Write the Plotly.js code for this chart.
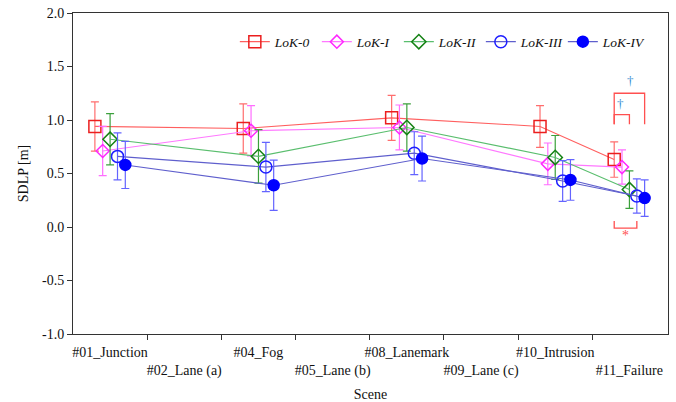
<!DOCTYPE html>
<html>
<head>
<meta charset="utf-8">
<script src="https://cdn.plot.ly/plotly-3.0.1.min.js"></script>
<style>html,body{margin:0;padding:0;background:#fff;}#chart{width:676px;height:402px;}</style>
</head>
<body>
<div id="chart"></div>
<script>
// Category slots on the x axis (labels staggered in two rows)
const scenes = ['#01_Junction', '#02_Lane (a)', '#04_Fog', '#05_Lane (b)', '#08_Lanemark', '#09_Lane (c)', '#10_Intrusion', '#11_Failure'];
// Scenes that carry data
const measured = ['#01_Junction', '#04_Fog', '#08_Lanemark', '#10_Intrusion', '#11_Failure'];
const seriesNames = ['LoK-0', 'LoK-I', 'LoK-II', 'LoK-III', 'LoK-IV'];

// Mean SDLP [m]
const lok0 = [0.94, 0.92, 1.02, 0.94, 0.63];
const lok1 = [0.71, 0.90, 0.93, 0.59, 0.56];
const lok2 = [0.82, 0.66, 0.93, 0.65, 0.35];
const lok3 = [0.66, 0.56, 0.69, 0.43, 0.29];
const lok4 = [0.58, 0.39, 0.64, 0.44, 0.27];
// Error (±) [m]
const err0 = [0.23, 0.23, 0.21, 0.195, 0.165];
const err1 = [0.23, 0.235, 0.21, 0.195, 0.16];
const err2 = [0.24, 0.25, 0.22, 0.205, 0.175];
const err3 = [0.22, 0.23, 0.20, 0.19, 0.16];
const err4 = [0.22, 0.235, 0.21, 0.19, 0.17];

const values = [lok0, lok1, lok2, lok3, lok4];
const errors = [err0, err1, err2, err3, err4];

// styling
const FONT = '"Liberation Serif", "Times New Roman", Times, serif';
const dodge = [-0.205, -0.1, 0, 0.1, 0.205];
const lineColors = ['rgb(255,95,95)', 'rgb(255,120,255)', 'rgb(90,190,110)', 'rgb(95,95,205)', 'rgb(95,95,205)'];
const markerColors = ['rgb(235,30,30)', 'rgb(255,40,255)', 'rgb(20,130,20)', 'rgb(30,30,255)', 'rgb(0,0,255)'];
const errColors = ['rgb(255,110,110)', 'rgb(255,110,255)', 'rgb(60,160,60)', 'rgb(100,100,255)', 'rgb(100,100,255)'];
const symbols = ['square-open', 'diamond-open', 'diamond-open', 'circle-open', 'circle'];
const sizes = [12, 10, 11, 12, 11];

const slotOf = s => scenes.indexOf(s);

const traces = seriesNames.map((name, i) => ({
  type: 'scatter',
  mode: 'lines+markers',
  name: name,
  x: measured.map(s => slotOf(s) + dodge[i]),
  y: values[i],
  error_y: {type: 'data', array: errors[i], visible: true, color: errColors[i], thickness: 1.2, width: 4},
  line: {color: lineColors[i], width: 1.1},
  marker: {symbol: symbols[i], size: sizes[i], color: markerColors[i], line: {width: 1.5, color: markerColors[i]}},
  cliponaxis: false
}));
// helper trace for the boundary tick axis
traces.push({type: 'scatter', mode: 'markers', x: [null], y: [null], xaxis: 'x2', yaxis: 'y', showlegend: false, hoverinfo: 'skip'});

// significance brackets near the last scene
const lastSlot = slotOf('#11_Failure');
const xs = dodge.map(d => lastSlot + d);
const red = 'rgb(255,80,80)';
const shapes = [
  {type: 'path', xref: 'x', yref: 'y', path: `M ${xs[0]},0.055 L ${xs[0]},-0.01 L ${xs[3]},-0.01 L ${xs[3]},0.055`, line: {color: red, width: 1.3}},
  {type: 'path', xref: 'x', yref: 'y', path: `M ${xs[0]},0.96 L ${xs[0]},1.05 L ${xs[2]},1.05 L ${xs[2]},0.96`, line: {color: red, width: 1.3}},
  {type: 'path', xref: 'x', yref: 'y', path: `M ${xs[0]},0.96 L ${xs[0]},1.25 L ${xs[4]},1.25 L ${xs[4]},0.96`, line: {color: red, width: 1.3}}
];
const annotations = [
  {x: (xs[0] + xs[3]) / 2, y: -0.08, xref: 'x', yref: 'y', text: '*', showarrow: false, font: {family: FONT, size: 14, color: red}},
  {x: (xs[0] + xs[2]) / 2 - 0.02, y: 1.15, xref: 'x', yref: 'y', text: '†', showarrow: false, font: {family: FONT, size: 13, color: 'rgb(50,140,210)'}},
  {x: (xs[0] + xs[4]) / 2 + 0.02, y: 1.37, xref: 'x', yref: 'y', text: '†', showarrow: false, font: {family: FONT, size: 13, color: 'rgb(50,140,210)'}}
];

const tickText = scenes.map((s, i) => i % 2 === 0 ? s : ' <br>' + s);
const axisColor = '#333';
const xRange = [-0.5, 7.52];

const layout = {
  width: 676, height: 402,
  margin: {l: 73, r: 8, t: 13, b: 68},
  paper_bgcolor: '#fff', plot_bgcolor: '#fff',
  font: {family: FONT, size: 14, color: '#111'},
  showlegend: true,
  legend: {
    orientation: 'h', x: 0.272, xanchor: 'left', y: 0.91, yanchor: 'middle',
    font: {family: FONT, size: 13.5, color: '#111', style: 'italic'},
    bgcolor: 'rgba(0,0,0,0)', borderwidth: 0,
    entrywidth: 37, entrywidthmode: 'pixels', traceorder: 'normal'
  },
  xaxis: {
    range: xRange, automargin: false,
    tickmode: 'array', tickvals: scenes.map((s, i) => i), ticktext: tickText, tickangle: 0,
    ticks: '', ticklabelstandoff: 5, showgrid: false, zeroline: false,
    showline: true, linecolor: axisColor, linewidth: 1, mirror: true,
    tickfont: {family: FONT, size: 14, color: '#111'},
    title: {text: 'Scene', font: {family: FONT, size: 14, color: '#111'}, standoff: 18}
  },
  xaxis2: {
    overlaying: 'x', anchor: 'y', side: 'bottom', range: xRange, automargin: false,
    tickmode: 'array', tickvals: scenes.slice(1).map((s, i) => i + 0.5), ticktext: scenes.slice(1).map(() => ''),
    ticks: 'outside', ticklen: 5, tickcolor: axisColor, tickwidth: 1,
    showgrid: false, zeroline: false, showline: false
  },
  yaxis: {
    range: [-1.0, 2.0], automargin: false,
    tickmode: 'array', tickvals: [-1.0, -0.5, 0, 0.5, 1.0, 1.5, 2.0], ticktext: ['-1.0', '-0.5', '0.0', '0.5', '1.0', '1.5', '2.0'],
    ticks: 'outside', ticklen: 5, tickcolor: axisColor,
    showgrid: false, zeroline: false,
    showline: true, linecolor: axisColor, linewidth: 1, mirror: true,
    tickfont: {family: FONT, size: 14, color: '#111'},
    title: {text: 'SDLP [m]', font: {family: FONT, size: 14, color: '#111'}, standoff: 10}
  },
  shapes: shapes,
  annotations: annotations
};

Plotly.newPlot('chart', traces, layout, {displayModeBar: false, staticPlot: true});
</script>
</body>
</html>
